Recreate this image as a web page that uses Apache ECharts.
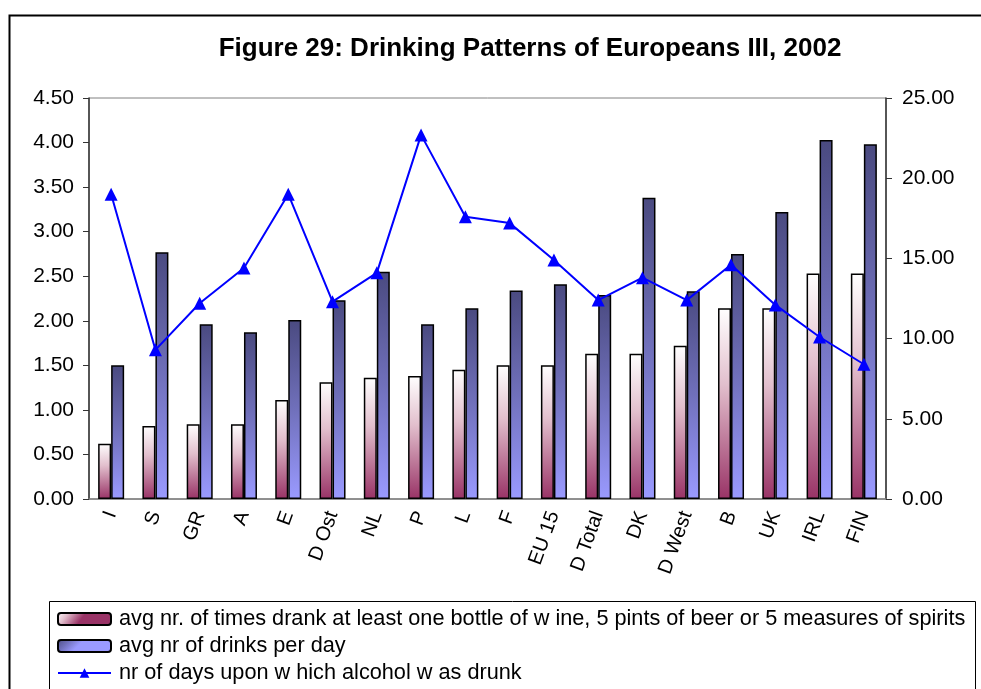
<!DOCTYPE html>
<html>
<head>
<meta charset="utf-8">
<script src="https://cdn.jsdelivr.net/npm/echarts@6/dist/echarts.min.js"></script>
<style>
  html, body { margin: 0; padding: 0; background: #fff; }
  #main { width: 981px; height: 689px; }
</style>
</head>
<body>
<div id="main"></div>
<script>
	var countries = ['I', 'S', 'GR', 'A', 'E', 'D Ost', 'NL', 'P', 'L', 'F', 'EU 15', 'D Total', 'DK', 'D West', 'B', 'UK', 'IRL', 'FIN'];
	// avg nr. of times drank at least one bottle of wine ...
	var heavyTimes = [0.62, 0.82, 0.84, 0.84, 1.11, 1.31, 1.36, 1.38, 1.45, 1.50, 1.50, 1.63, 1.63, 1.72, 2.14, 2.14, 2.53, 2.53];
	// avg nr of drinks per day
	var drinksPerDay = [1.50, 2.77, 1.96, 1.87, 2.01, 2.23, 2.55, 1.96, 2.14, 2.34, 2.41, 2.29, 3.38, 2.33, 2.75, 3.22, 4.03, 3.98];
	// nr of days upon which alcohol was drunk (right axis)
	var daysDrunk = [19.0, 9.3, 12.2, 14.4, 19.0, 12.3, 14.1, 22.7, 17.6, 17.2, 14.9, 12.4, 13.8, 12.4, 14.6, 12.1, 10.1, 8.4];

	var leftTicks = { min: 0, max: 4.5, step: 0.5 };
	var rightTicks = { min: 0, max: 25, step: 5 };

	var names = [
		'avg nr. of times drank at least one bottle of w ine, 5 pints of beer or 5 measures of spirits',
		'avg nr of drinks per day',
		'nr of days upon w hich alcohol w as drunk'
	];

	var font = '"Liberation Sans", Arial, sans-serif';
	var myChart = echarts.init(document.getElementById('main'));

	var pinkFill = new echarts.graphic.LinearGradient(0, 0, 0.35, 1, [
		{ offset: 0, color: '#ffffff' },
		{ offset: 0.4, color: '#e2bfcd' },
		{ offset: 1, color: '#993366' }
	]);
	var blueFill = new echarts.graphic.LinearGradient(0, 0, 0.25, 1, [
		{ offset: 0, color: '#4a4a80' },
		{ offset: 0.5, color: '#7070bb' },
		{ offset: 1, color: '#9a9aff' }
	]);

	function fmt(v) { return v.toFixed(2); }

	var option = {
		animation: false,
		textStyle: { fontFamily: font },
		title: {
			text: 'Figure 29: Drinking Patterns of Europeans III, 2002',
			left: 525,
			textAlign: 'center',
			top: 31,
			textStyle: { fontSize: 26, fontWeight: 'bold', color: '#000', fontFamily: font }
		},
		graphic: [
			{ type: 'rect', left: 7, top: 13, shape: { width: 1000, height: 700 },
			  style: { fill: 'none', stroke: '#000', lineWidth: 2 }, silent: true },
			{ type: 'rect', left: 47, top: 599, shape: { width: 926, height: 120 },
			  style: { fill: 'none', stroke: '#000', lineWidth: 1 }, silent: true }
		],
		legend: {
			orient: 'vertical',
			left: 57,
			top: 608,
			padding: 0,
			itemWidth: 53,
			itemHeight: 12,
			itemGap: 5,
			data: names,
			textStyle: { fontSize: 21.7, color: '#000', fontFamily: font, padding: [0, 0, 0, 3] }
		},
		grid: {
			left: 89, right: 95, top: 98, bottom: 190,
			show: true, borderColor: '#808080', borderWidth: 1
		},
		xAxis: {
			type: 'category',
			data: countries,
			axisLine: { lineStyle: { color: '#808080', width: 1.5 } },
			axisTick: { length: 6, lineStyle: { color: '#808080' } },
			axisLabel: { rotate: 70, fontSize: 20, color: '#000', margin: 13, interval: 0 }
		},
		yAxis: [
			{
				type: 'value', min: leftTicks.min, max: leftTicks.max, interval: leftTicks.step,
				axisLine: { show: true, lineStyle: { color: '#333', width: 1.5 } },
				axisTick: { show: true, length: 6, lineStyle: { color: '#333' } },
				splitLine: { show: false },
				axisLabel: { formatter: fmt, fontSize: 21, color: '#000', margin: 15 }
			},
			{
				type: 'value', min: rightTicks.min, max: rightTicks.max, interval: rightTicks.step,
				axisLine: { show: true, lineStyle: { color: '#333', width: 1.5 } },
				axisTick: { show: true, length: 6, lineStyle: { color: '#333' } },
				splitLine: { show: false },
				axisLabel: { formatter: fmt, fontSize: 21, color: '#000', margin: 16 }
			}
		],
		series: [
			{
				name: names[0],
				type: 'bar',
				data: heavyTimes,
				barWidth: 13,
				barGap: '0%',
				itemStyle: { color: pinkFill, borderColor: '#000', borderWidth: 1.5 }
			},
			{
				name: names[1],
				type: 'bar',
				data: drinksPerDay,
				barWidth: 13,
				barGap: '0%',
				itemStyle: { color: blueFill, borderColor: '#000', borderWidth: 1.5 }
			},
			{
				name: names[2],
				type: 'line',
				yAxisIndex: 1,
				data: daysDrunk,
				symbol: 'triangle',
				symbolSize: 13,
				lineStyle: { color: '#0000ff', width: 2 },
				itemStyle: { color: '#0000ff' },
				z: 5
			}
		]
	};

	myChart.setOption(option);
</script>
</body>
</html>
